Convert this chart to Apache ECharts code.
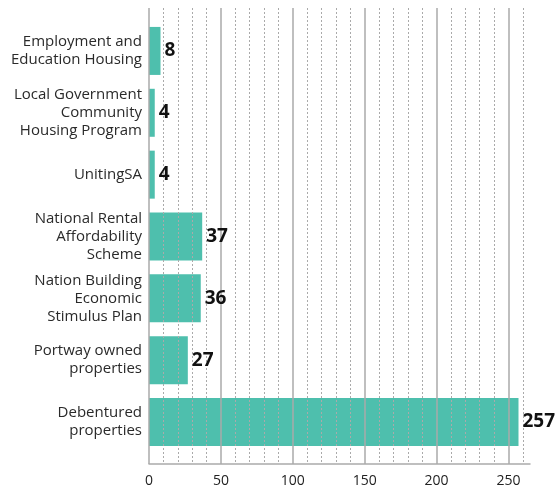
<!DOCTYPE html>
<html>
<head>
<meta charset="utf-8">
<script src="https://cdn.jsdelivr.net/npm/echarts@6/dist/echarts.min.js"></script>
<style>html,body{margin:0;padding:0;background:#fff;}#c{width:558px;height:495px;}</style>
</head>
<body>
<div id="c"></div>
<script>
const categories = [
  "Employment and\nEducation Housing",
  "Local Government\nCommunity\nHousing Program",
  "UnitingSA",
  "National Rental\nAffordability\nScheme",
  "Nation Building\nEconomic\nStimulus Plan",
  "Portway owned\nproperties",
  "Debentured\nproperties"
];
const values = [8, 4, 4, 37, 36, 27, 257];
const xMin = 0, xMax = 265, xInterval = 50;

const chart = echarts.init(document.getElementById('c'), null, {renderer: 'canvas'});
const FONT = '"Open Sans", "Noto Sans", sans-serif';
chart.setOption({
  animation: false,
  backgroundColor: '#fff',
  grid: [
    {left: 149, right: 28, top: 20, bottom: 42, containLabel: false},
    {left: 149, right: 28, top: 8, bottom: 31, containLabel: false}
  ],
  xAxis: [
    {
      type: 'value', gridIndex: 0, min: xMin, max: xMax, interval: xInterval,
      axisLine: {show: false}, axisTick: {show: false}, axisLabel: {show: false},
      splitLine: {show: false}
    },
    {
      type: 'value', gridIndex: 1, min: xMin, max: xMax, interval: xInterval, z: 3,
      axisLine: {show: true, lineStyle: {color: '#aaa', width: 1.5}},
      axisTick: {show: false},
      axisLabel: {color: '#222', fontSize: 14, fontFamily: FONT, margin: 10, showMaxLabel: false},
      splitLine: {show: true, showMaxLine: false, lineStyle: {color: '#aaa', width: 1.5}},
      minorTick: {show: false, splitNumber: 5},
      minorSplitLine: {show: true, lineStyle: {color: '#aaa', width: 1, type: [2, 2]}}
    }
  ],
  yAxis: [
    {
      type: 'category', gridIndex: 0, data: categories, inverse: true,
      axisLine: {show: false}, axisTick: {show: false},
      axisLabel: {color: '#2a2a2a', fontSize: 15, fontFamily: FONT, lineHeight: 18, margin: 7, align: 'right'}
    },
    {
      type: 'value', gridIndex: 1, show: false
    }
  ],
  series: [
    {
      type: 'bar', xAxisIndex: 0, yAxisIndex: 0, data: values, barWidth: 48, z: 2,
      itemStyle: {color: '#4ebfad'}
    },
    {
      type: 'bar', xAxisIndex: 0, yAxisIndex: 0, data: values, barWidth: 48, barGap: '-100%', z: 5,
      itemStyle: {color: 'rgba(0,0,0,0)'},
      label: {show: true, position: 'right', distance: 4, color: '#111', fontSize: 19, fontWeight: 'bold', fontFamily: FONT}
    }
  ]
});
</script>
</body>
</html>
